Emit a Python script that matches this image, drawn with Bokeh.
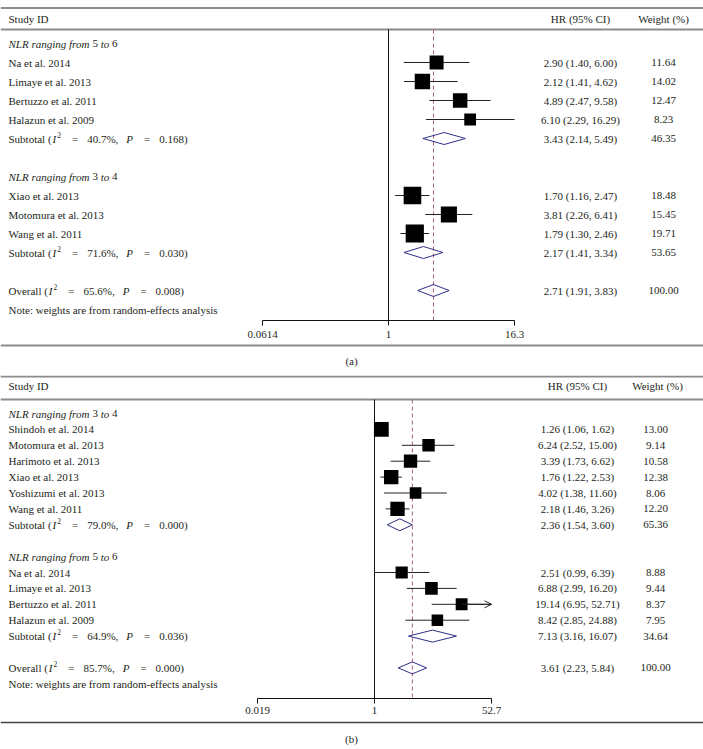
import math
from bokeh.plotting import figure
from bokeh.layouts import column
from bokeh.models import Range1d, FixedTicker, Arrow, OpenHead, ColumnDataSource, CustomJSTickFormatter
from bokeh.core.properties import value
from bokeh.embed import file_html
from bokeh.resources import INLINE

# ---------------- data: panel (a) ----------------
a_g1_range = ("5", "6")
a_g1_studies = ["Na et al. 2014", "Limaye et al. 2013", "Bertuzzo et al. 2011", "Halazun et al. 2009"]
a_g1_hr = [2.90, 2.12, 4.89, 6.10]
a_g1_lo = [1.40, 1.41, 2.47, 2.29]
a_g1_hi = [6.00, 4.62, 9.58, 16.29]
a_g1_w = [11.64, 14.02, 12.47, 8.23]
a_g1_sub = [3.43, 2.14, 5.49, 46.35]
a_g1_het = ["40.7%", "0.168"]

a_g2_range = ("3", "4")
a_g2_studies = ["Xiao et al. 2013", "Motomura et al. 2013", "Wang et al. 2011"]
a_g2_hr = [1.70, 3.81, 1.79]
a_g2_lo = [1.16, 2.26, 1.30]
a_g2_hi = [2.47, 6.41, 2.46]
a_g2_w = [18.48, 15.45, 19.71]
a_g2_sub = [2.17, 1.41, 3.34, 53.65]
a_g2_het = ["71.6%", "0.030"]

a_overall = [2.71, 1.91, 3.83, 100.00]
a_overall_het = ["65.6%", "0.008"]
a_ticks = [0.0614, 1, 16.3]

# ---------------- data: panel (b) ----------------
b_g1_range = ("3", "4")
b_g1_studies = ["Shindoh et al. 2014", "Motomura et al. 2013", "Harimoto et al. 2013",
                "Xiao et al. 2013", "Yoshizumi et al. 2013", "Wang et al. 2011"]
b_g1_hr = [1.26, 6.24, 3.39, 1.76, 4.02, 2.18]
b_g1_lo = [1.06, 2.52, 1.73, 1.22, 1.38, 1.46]
b_g1_hi = [1.62, 15.00, 6.62, 2.53, 11.60, 3.26]
b_g1_w = [13.00, 9.14, 10.58, 12.38, 8.06, 12.20]
b_g1_sub = [2.36, 1.54, 3.60, 65.36]
b_g1_het = ["79.0%", "0.000"]

b_g2_range = ("5", "6")
b_g2_studies = ["Na et al. 2014", "Limaye et al. 2013", "Bertuzzo et al. 2011", "Halazun et al. 2009"]
b_g2_hr = [2.51, 6.88, 19.14, 8.42]
b_g2_lo = [0.99, 2.99, 6.95, 2.85]
b_g2_hi = [6.39, 16.20, 52.71, 24.88]
b_g2_w = [8.88, 9.44, 8.37, 7.95]
b_g2_sub = [7.13, 3.16, 16.07, 34.64]
b_g2_het = ["64.9%", "0.036"]

b_overall = [3.61, 2.23, 5.84, 100.00]
b_overall_het = ["85.7%", "0.000"]
b_ticks = [0.019, 1, 52.7]

# ---------------- styling ----------------
FONT = "Liberation Serif"
FS = 11.0
TXT = "#231f20"
RULE = "#8c8c8c"
DIAM = "#2e2f86"
DASH = "#b0607a"
W = 703
LEFT = 8  # left edge of the text column (page px)

ROMAN = {' ': 250, '(': 333, ')': 333, ',': 250, '.': 250, '%': 833, '=': 564, ':': 278, '-': 333,
         'a': 444, 'b': 500, 'c': 444, 'd': 500, 'e': 444, 'f': 333, 'g': 500, 'h': 500, 'i': 278,
         'j': 278, 'k': 500, 'l': 278, 'm': 778, 'n': 500, 'o': 500, 'p': 500, 'q': 500, 'r': 333,
         's': 389, 't': 278, 'u': 500, 'v': 500, 'w': 722, 'x': 500, 'y': 500, 'z': 444,
         'O': 722, 'S': 556, 'N': 722}
ITAL = {' ': 250, 'N': 667, 'L': 556, 'R': 611, 'I': 333, 'P': 611, 'a': 500, 'n': 500, 'g': 500,
        'i': 278, 'f': 278, 'r': 389, 'o': 500, 'm': 722, 't': 278}


def tw(s, tab, size=FS):
    return sum(tab.get(c, 500) for c in s) * size / 1000.0


def build_panel(cfg):
    one_x, scale = cfg["one_x"], cfg["scale"]
    page_top, axis_y = cfg["page_top"], cfg["axis_y"]
    row0, step = cfg["row0"], cfg["step"]

    def px2x(px):
        return math.exp((px - one_x) / scale)

    def py2y(py):
        return (py - row0) / step

    x0, x1 = px2x(0), px2x(W)
    bottom = 22
    height = (axis_y - page_top) + bottom
    p = figure(width=W, height=height, x_axis_type="log",
               x_range=Range1d(x0, x1), y_range=Range1d(py2y(axis_y), py2y(page_top)),
               toolbar_location=None, output_backend="svg", y_axis_location=None,
               min_border_left=0, min_border_right=0, min_border_top=0, min_border_bottom=bottom)
    p.outline_line_color = None
    p.xgrid.visible = False
    p.ygrid.visible = False

    rows = []
    r = 0
    for g in cfg["groups"]:
        rows.append(("group", r, g)); r += 1
        for i in range(len(g["studies"])):
            rows.append(("study", r, (g, i))); r += 1
        rows.append(("sub", r, g)); r += 1
        r += 1
    rows.append(("overall", r, None)); r += 1
    rows.append(("note", r, None))

    pieces = {"roman": [], "italic": [], "sup": [], "center": []}
    xl = px2x(LEFT)
    G = cfg["gaps"]

    def add_math(prefix, het, y):
        i2, pv = het
        off = 0.0
        pieces["roman"].append((xl, y, prefix, off, 0)); off += tw(prefix, ROMAN) + 0.8
        pieces["italic"].append((xl, y, "I", off, 0)); off += tw("I", ITAL) + 1.2
        pieces["sup"].append((xl, y, "2", off, -4)); off += 3.75 + G[0]
        pieces["roman"].append((xl, y, "=", off, 0)); off += tw("=", ROMAN) + G[1]
        s = i2 + ","
        pieces["roman"].append((xl, y, s, off, 0)); off += tw(s, ROMAN) + G[2]
        pieces["italic"].append((xl, y, "P", off, 0)); off += tw("P", ITAL) + G[0]
        pieces["roman"].append((xl, y, "=", off, 0)); off += tw("=", ROMAN) + G[1]
        pieces["roman"].append((xl, y, pv + ")", off, 0))

    sq_x, sq_y, sq_s = [], [], []
    seg = dict(x0=[], x1=[], y=[])
    dxs, dys = [], []
    hr_x, w_x = px2x(cfg["hr_col"]), px2x(cfg["w_col"])
    dh = 6.0 / step
    xmax = cfg["ticks"][-1]

    def add_vals(y, est, lo, hi, w):
        pieces["center"].append((hr_x, y, f"{est:.2f} ({lo:.2f}, {hi:.2f})", 0, 0))
        pieces["center"].append((w_x, y, f"{w:.2f}", 0, 0))

    for kind, y, obj in rows:
        if kind == "group":
            lo_s, hi_s = obj["range"]
            off = 0.0
            t = "NLR ranging from "
            pieces["italic"].append((xl, y, t, 0, 0)); off += tw(t, ITAL)
            pieces["roman"].append((xl, y, lo_s, off, 0)); off += tw(lo_s + " ", ROMAN)
            pieces["italic"].append((xl, y, "to", off, 0)); off += tw("to ", ITAL)
            pieces["roman"].append((xl, y, hi_s, off, 0))
        elif kind == "study":
            g, i = obj
            pieces["roman"].append((xl, y, g["studies"][i], 0, 0))
            est, lo, hi, w = g["hr"][i], g["lo"][i], g["hi"][i], g["w"][i]
            sq_x.append(est); sq_y.append(y); sq_s.append(4.1 * math.sqrt(w))
            seg["x0"].append(lo); seg["x1"].append(min(hi, xmax)); seg["y"].append(y)
            if hi > xmax:
                p.add_layout(Arrow(end=OpenHead(size=7, line_width=1, line_color="#222222"),
                                   x_start=est, y_start=y, x_end=xmax, y_end=y,
                                   line_width=1, line_color="#222222"))
            add_vals(y, est, lo, hi, w)
        elif kind == "sub":
            add_math("Subtotal (", obj["het"], y)
            est, lo, hi, w = obj["sub"]
            dxs.append([lo, est, hi, est]); dys.append([y, y - dh, y, y + dh])
            add_vals(y, est, lo, hi, w)
        elif kind == "overall":
            add_math("Overall (", cfg["overall_het"], y)
            est, lo, hi, w = cfg["overall"]
            dxs.append([lo, est, hi, est]); dys.append([y, y - dh, y, y + dh])
            add_vals(y, est, lo, hi, w)
        elif kind == "note":
            pieces["roman"].append((xl, y, "Note: weights are from random-effects analysis", 0, 0))

    yt, yh, ya = py2y(cfg["top_line"]), py2y(cfg["head_line"]), py2y(axis_y)
    p.segment(x0=[x0, x0], x1=[x1, x1], y0=[yt, yh], y1=[yt, yh], line_color=RULE, line_width=2)
    p.segment(x0=[1], x1=[1], y0=[yh], y1=[ya], line_color="#111111", line_width=1)
    p.segment(x0=[cfg["overall"][0]], x1=[cfg["overall"][0]], y0=[yh], y1=[ya],
              line_color=DASH, line_width=1, line_dash="4 3")
    p.segment(x0=seg["x0"], x1=seg["x1"], y0=seg["y"], y1=seg["y"], line_color="#222222", line_width=1)
    p.scatter(x=sq_x, y=sq_y, size=sq_s, marker="square", fill_color="black", line_color=None)
    p.patches(xs=dxs, ys=dys, fill_color=None, line_color=DIAM, line_width=1)

    yhd = py2y(cfg["head_y"])
    pieces["roman"].append((xl, yhd, "Study ID", 0, 0))
    pieces["center"].append((px2x(cfg["hr_col"]), yhd, "HR (95% CI)", 0, 0))
    pieces["center"].append((px2x(cfg["w_head"]), yhd, "Weight (%)", 0, 0))

    for key, style, align, size in [("roman", "normal", "left", FS), ("italic", "italic", "left", FS),
                                     ("sup", "normal", "left", 7.5), ("center", "normal", "center", FS)]:
        lst = pieces[key]
        if not lst:
            continue
        src = ColumnDataSource(dict(x=[q[0] for q in lst], y=[q[1] for q in lst], t=[q[2] for q in lst],
                                    xo=[q[3] for q in lst], yo=[q[4] for q in lst]))
        p.text(x="x", y="y", text="t", x_offset="xo", y_offset="yo", source=src,
               text_font=value(FONT), text_font_size=f"{size}px", text_font_style=style,
               text_align=align, text_baseline="middle", text_color=TXT)

    ax = p.xaxis[0]
    ax.ticker = FixedTicker(ticks=cfg["ticks"])
    ax.formatter = CustomJSTickFormatter(code="return tick.toString();")
    ax.bounds = (cfg["ticks"][0], cfg["ticks"][-1])
    ax.major_tick_out = 5
    ax.major_tick_in = 0
    ax.minor_tick_line_color = None
    ax.axis_line_color = "#111111"
    ax.major_tick_line_color = "#111111"
    ax.major_label_standoff = cfg["standoff"]
    ax.major_label_text_font = FONT
    ax.major_label_text_font_size = f"{FS}px"
    ax.major_label_text_color = TXT

    ch = cfg["cap_h"]
    c = figure(width=W, height=ch, x_range=Range1d(0, W), y_range=Range1d(ch, 0),
               toolbar_location=None, output_backend="svg", x_axis_location=None, y_axis_location=None,
               min_border=0)
    c.outline_line_color = None
    c.xgrid.visible = False
    c.ygrid.visible = False
    base = axis_y + bottom
    ly = cfg["cap_line"] - base
    c.segment(x0=[0], x1=[W], y0=[ly], y1=[ly], line_color=cfg["cap_color"], line_width=cfg["cap_lw"])
    c.text(x=[cfg["cap_x"]], y=[cfg["cap_y"] - base], text=[cfg["cap"]],
           text_font=value(FONT), text_font_size=f"{FS}px", text_align="center",
           text_baseline="middle", text_color=TXT)
    return p, c


cfg_a = dict(
    one_x=388.0, scale=252.0 / (math.log(16.3) - math.log(0.0614)),
    page_top=0, axis_y=320, row0=43, step=19.0,
    top_line=7.5, head_line=29, head_y=18, hr_col=580, w_col=663, w_head=663, standoff=5,
    gaps=(11, 9, 8),
    ticks=a_ticks, overall=a_overall, overall_het=a_overall_het,
    groups=[dict(range=a_g1_range, studies=a_g1_studies, hr=a_g1_hr, lo=a_g1_lo, hi=a_g1_hi, w=a_g1_w,
                 sub=a_g1_sub, het=a_g1_het),
            dict(range=a_g2_range, studies=a_g2_studies, hr=a_g2_hr, lo=a_g2_lo, hi=a_g2_hi, w=a_g2_w,
                 sub=a_g2_sub, het=a_g2_het)],
    cap_h=33, cap_line=345, cap_y=360, cap_x=351, cap="(a)", cap_color=RULE, cap_lw=2,
)
cfg_b = dict(
    one_x=374.0, scale=234.0 / (math.log(52.7) - math.log(0.019)),
    page_top=375, axis_y=698, row0=413, step=15.9,
    top_line=376, head_line=399, head_y=385, hr_col=577, w_col=655, w_head=657, standoff=3,
    gaps=(11, 9, 8),
    ticks=b_ticks, overall=b_overall, overall_het=b_overall_het,
    groups=[dict(range=b_g1_range, studies=b_g1_studies, hr=b_g1_hr, lo=b_g1_lo, hi=b_g1_hi, w=b_g1_w,
                 sub=b_g1_sub, het=b_g1_het),
            dict(range=b_g2_range, studies=b_g2_studies, hr=b_g2_hr, lo=b_g2_lo, hi=b_g2_hi, w=b_g2_w,
                 sub=b_g2_sub, het=b_g2_het)],
    cap_h=29, cap_line=722, cap_y=738, cap_x=351, cap="(b)", cap_color="#444444", cap_lw=1.5,
)

pa, ca = build_panel(cfg_a)
pb, cb = build_panel(cfg_b)
layout = column(pa, ca, pb, cb, spacing=0)
open("out.html", "w").write(file_html(layout, INLINE))
